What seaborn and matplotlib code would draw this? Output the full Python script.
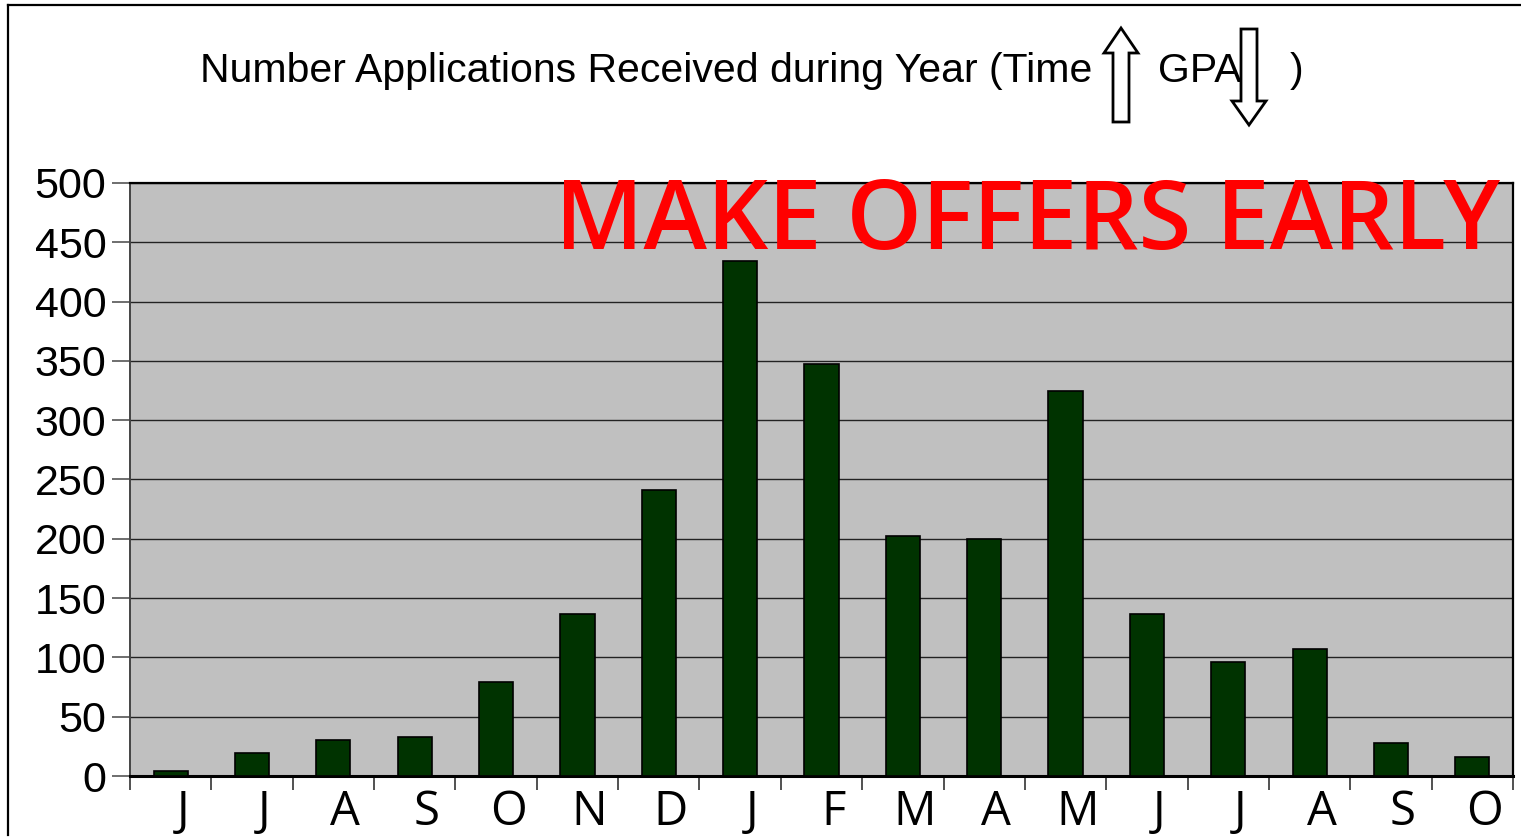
import numpy as np
import pandas as pd
import matplotlib
matplotlib.use("Agg")
import matplotlib.pyplot as plt
import matplotlib.patches as mpatches
import matplotlib.transforms as mtransforms
from matplotlib.lines import Line2D
import seaborn as sns

# Datos
meses = ["Jun1", "Jul1", "Aug1", "Sep1", "Oct1", "Nov1", "Dec1", "Jan2", "Feb2",
         "Mar2", "Apr2", "May2", "Jun2", "Jul2", "Aug2", "Sep2", "Oct2"]
etiquetas = ["J", "J", "A", "S", "O", "N", "D", "J", "F", "M", "A", "M", "J", "J", "A", "S", "O"]
solicitudes = [4, 19, 30, 33, 79, 137, 241, 434, 347, 202, 200, 325, 137, 96, 107, 28, 16]
yticks = list(range(0, 501, 50))

df = pd.DataFrame({"mes": meses, "n": solicitudes})

W, H = 1521, 840
fig = plt.figure(figsize=(W / 100, H / 100), dpi=100)

def px(x, y):
    # pixel (desde arriba-izquierda) -> coordenadas de figura
    return x / W, 1 - y / H

ax = fig.add_axes([130 / W, (H - 776) / H, (1513 - 130) / W, (776 - 183) / H])
ax.set_facecolor("#C0C0C0")

sns.barplot(data=df, x="mes", y="n", order=meses, color="#003300", width=0.42,
            edgecolor="black", linewidth=1.2, saturation=1, ax=ax, zorder=3)

ax.set_xlim(-0.5, len(meses) - 0.5)
ax.set_ylim(0, 500)
ax.yaxis.grid(True, color="#222222", linewidth=1.0, zorder=0)
ax.set_axisbelow(True)
ax.set_xlabel("")
ax.set_ylabel("")

tick_font = ["Liberation Sans", "DejaVu Sans"]
ax.set_yticks(yticks)
ax.set_yticklabels([str(v) for v in yticks], fontsize=31, family=tick_font)
ax.tick_params(axis="y", length=13, width=1.2, color="#555555", pad=4)

ax.set_xticks(range(len(meses)))
ax.set_xticklabels(etiquetas, fontsize=34, family=["Open Sans", "DejaVu Sans"])
ax.tick_params(axis="x", length=0, pad=9)
desplaza = mtransforms.ScaledTranslation(12 / 100, 0, fig.dpi_scale_trans)
for lab in ax.get_xticklabels():
    lab.set_transform(lab.get_transform() + desplaza)
ax.set_xticks(np.arange(-0.5, len(meses), 1.0), minor=True)
ax.tick_params(axis="x", which="minor", length=10, width=1.2, color="#333333")

for s in ["top", "right", "bottom"]:
    ax.spines[s].set_color("black")
    ax.spines[s].set_linewidth(1.6)
ax.spines["bottom"].set_linewidth(2.2)
ax.spines["left"].set_color("#444444")
ax.spines["left"].set_linewidth(1.4)

# Titulo
title_font = ["Liberation Sans", "DejaVu Sans"]
fig.text(*px(200, 82), "Number Applications Received during Year (Time", fontsize=29.5,
         family=title_font, ha="left", va="baseline")
fig.text(*px(1158, 82), "GPA", fontsize=29.5, family=title_font, ha="left", va="baseline")
fig.text(*px(1290, 82), ")", fontsize=29.5, family=title_font, ha="left", va="baseline")

# Flechas del titulo
def flecha(x_shaft0, x_shaft1, x_head0, x_head1, y_tip, y_base, y_end):
    xm = (x_head0 + x_head1) / 2
    pts = [(xm, y_tip), (x_head1, y_base), (x_shaft1, y_base), (x_shaft1, y_end),
           (x_shaft0, y_end), (x_shaft0, y_base), (x_head0, y_base)]
    poly = mpatches.Polygon([px(x, y) for x, y in pts], closed=True, transform=fig.transFigure,
                            facecolor="white", edgecolor="black", linewidth=2.0, zorder=5)
    fig.patches.append(poly)

flecha(1113, 1129, 1104, 1138, 28, 53, 122)
flecha(1241, 1257, 1232, 1266, 125, 101, 29)

# Texto rojo
fig.text(*px(555, 249), "MAKE OFFERS EARLY", fontsize=69, weight="semibold",
         family=["Open Sans", "DejaVu Sans"], color="#FF0000", ha="left", va="baseline", zorder=10)

# Marco de la figura
fig.add_artist(Line2D([8 / W, 1], [1 - 5 / H, 1 - 5 / H], transform=fig.transFigure,
                      color="black", linewidth=1.6))
fig.add_artist(Line2D([8 / W, 8 / W], [1 - 5 / H, 1 - 835 / H], transform=fig.transFigure,
                      color="black", linewidth=1.6))

fig.savefig("out.png", dpi=100, facecolor="white")
